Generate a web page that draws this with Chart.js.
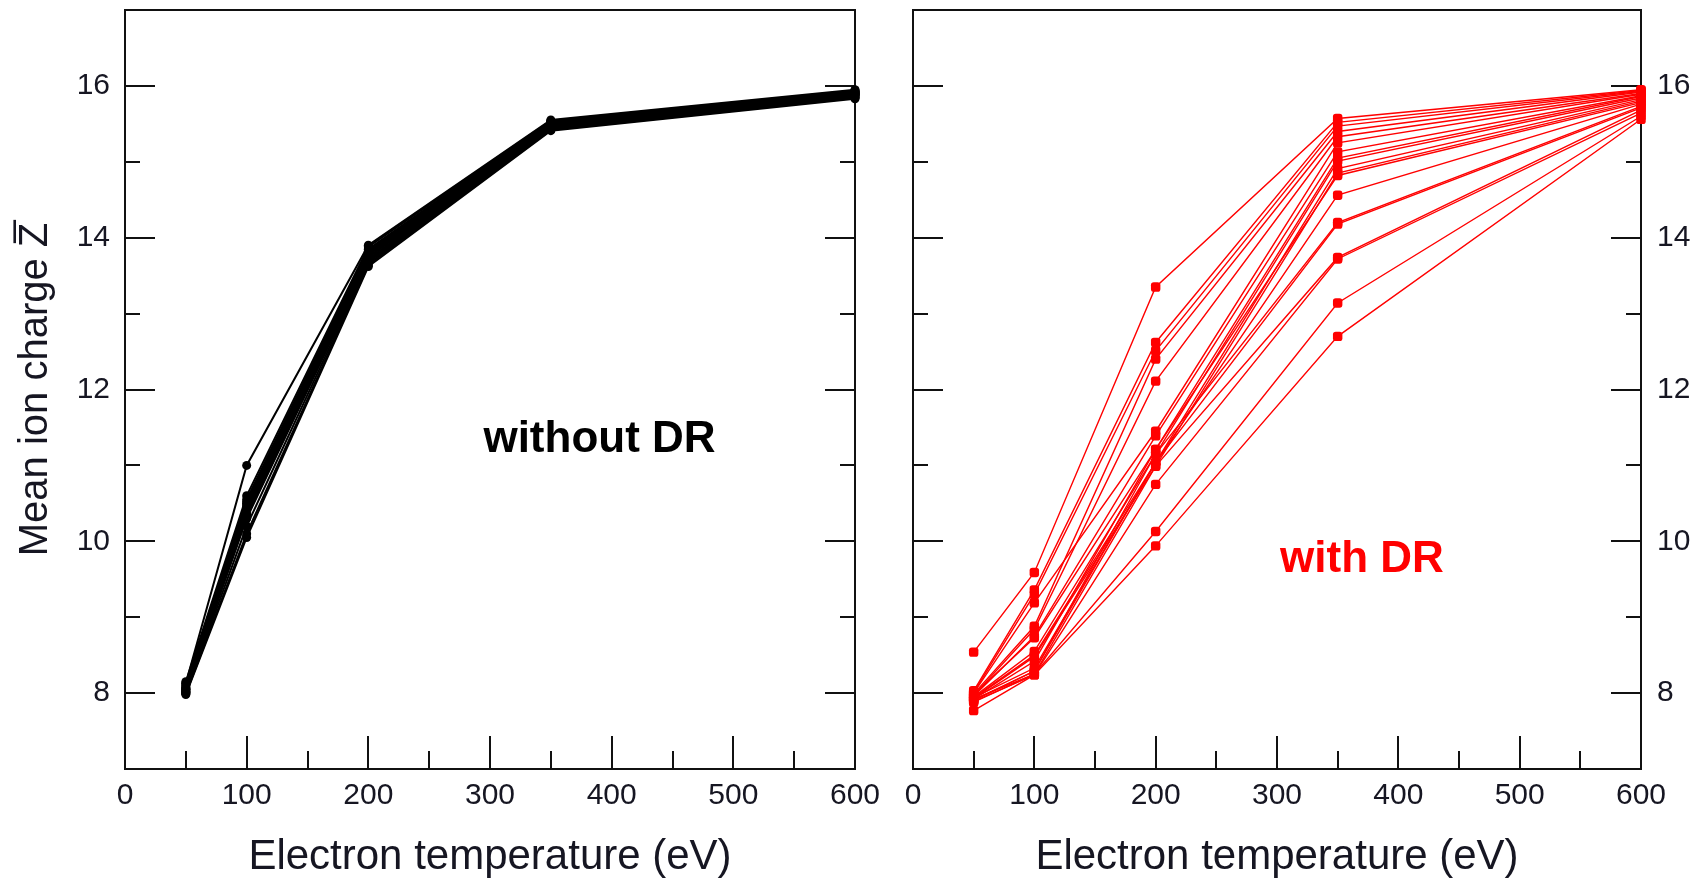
<!DOCTYPE html>
<html>
<head>
<meta charset="utf-8">
<script src="https://cdn.jsdelivr.net/npm/chart.js@4.4.1/dist/chart.umd.min.js"></script>
<style>
  html, body { margin: 0; padding: 0; background: #fff; width: 1704px; height: 879px; overflow: hidden; }
  canvas { position: absolute; top: 0; }
  #leftPanel { left: 0; }
  #rightPanel { left: 880px; }
</style>
</head>
<body>
<canvas id="leftPanel" width="880" height="879"></canvas>
<canvas id="rightPanel" width="824" height="879"></canvas>
<script>
// Electron temperatures (eV) at which the mean ion charge was computed
const temperatures = [50, 100, 200, 350, 600];

// Tick labels shown on the axes
const xTickLabels = [0, 100, 200, 300, 400, 500, 600];
const yTickLabels = [8, 10, 12, 14, 16];

// Mean ion charge, one row per case, without dielectronic recombination
const zWithoutDR = [
  [8.13, 11.00, 13.90, 15.55, 15.95],
  [8.15, 10.60, 13.88, 15.54, 15.94],
  [8.10, 10.55, 13.85, 15.53, 15.93],
  [8.08, 10.52, 13.84, 15.52, 15.92],
  [8.12, 10.50, 13.82, 15.52, 15.92],
  [8.06, 10.48, 13.80, 15.51, 15.91],
  [8.05, 10.45, 13.80, 15.50, 15.91],
  [8.04, 10.43, 13.78, 15.50, 15.90],
  [8.07, 10.42, 13.77, 15.49, 15.90],
  [8.03, 10.40, 13.75, 15.48, 15.89],
  [8.02, 10.38, 13.74, 15.48, 15.89],
  [8.05, 10.36, 13.72, 15.47, 15.88],
  [8.01, 10.34, 13.70, 15.46, 15.88],
  [8.00, 10.32, 13.69, 15.45, 15.87],
  [8.02, 10.30, 13.68, 15.44, 15.86],
  [8.00, 10.20, 13.66, 15.43, 15.85],
  [7.99, 10.10, 13.64, 15.42, 15.84],
  [7.98, 10.05, 13.62, 15.41, 15.83]
];

// Mean ion charge, one row per case, with dielectronic recombination
const zWithDR = [
  [8.54, 9.59, 13.35, 15.57, 15.95],
  [8.03, 9.36, 12.62, 15.52, 15.94],
  [8.01, 9.30, 12.51, 15.47, 15.93],
  [7.99, 8.88, 12.40, 15.40, 15.92],
  [7.97, 8.84, 12.11, 15.33, 15.90],
  [8.00, 9.19, 11.45, 15.25, 15.89],
  [7.96, 8.75, 11.39, 15.13, 15.87],
  [7.98, 8.73, 11.21, 15.05, 15.86],
  [7.95, 8.55, 11.15, 15.01, 15.84],
  [7.94, 8.50, 11.04, 14.91, 15.82],
  [7.93, 8.48, 10.99, 14.85, 15.80],
  [7.92, 8.42, 11.21, 14.82, 15.78],
  [7.94, 8.33, 11.04, 14.56, 15.76],
  [7.91, 8.29, 11.15, 14.20, 15.73],
  [7.90, 8.29, 11.04, 14.18, 15.71],
  [7.92, 8.25, 10.99, 13.74, 15.68],
  [7.89, 8.24, 10.75, 13.72, 15.64],
  [7.88, 8.25, 10.13, 13.14, 15.60],
  [7.77, 8.24, 9.94, 12.70, 15.56]
];

const FONT = "'Liberation Sans', Arial, Helvetica, sans-serif";
const INK = '#161622';

// Closed frame plus inward major/minor tick marks on the bottom, left and right sides
const frameTicks = {
  id: 'frameTicks',
  beforeDatasetsDraw(chart) {
    const { ctx, chartArea: a, scales: { x, y } } = chart;
    ctx.save();
    ctx.strokeStyle = '#111';
    ctx.lineWidth = 2;
    ctx.strokeRect(a.left, a.top, a.right - a.left, a.bottom - a.top);
    ctx.beginPath();
    x.ticks.forEach(t => {
      if (t.value <= x.min || t.value >= x.max) return;
      const px = Math.round(x.getPixelForValue(t.value));
      const len = xTickLabels.includes(t.value) ? 33 : 18;
      ctx.moveTo(px, a.bottom);
      ctx.lineTo(px, a.bottom - len);
    });
    y.ticks.forEach(t => {
      if (t.value <= y.min || t.value >= y.max) return;
      const py = Math.round(y.getPixelForValue(t.value));
      const len = yTickLabels.includes(t.value) ? 30 : 15;
      ctx.moveTo(a.left, py);
      ctx.lineTo(a.left + len, py);
      ctx.moveTo(a.right, py);
      ctx.lineTo(a.right - len, py);
    });
    ctx.stroke();
    ctx.restore();
  }
};

// Bold in-plot caption placed at data coordinates
function caption(text, color, xv, yv) {
  return {
    id: 'caption',
    afterDatasetsDraw(chart) {
      const { ctx, scales: { x, y } } = chart;
      ctx.save();
      ctx.font = `bold 44px ${FONT}`;
      ctx.fillStyle = color;
      ctx.textAlign = 'center';
      ctx.textBaseline = 'middle';
      ctx.fillText(text, x.getPixelForValue(xv), y.getPixelForValue(yv));
      ctx.restore();
    }
  };
}

function buildDatasets(rows, color, opts) {
  return rows.map(row => ({
    data: row.map((z, i) => ({ x: temperatures[i], y: z })),
    borderColor: color,
    backgroundColor: color,
    borderWidth: opts.lineWidth,
    pointStyle: opts.pointStyle,
    pointRadius: opts.pointRadius,
    pointBorderWidth: 0,
    pointHoverRadius: opts.pointRadius,
    tension: 0,
    clip: false,
    fill: false
  }));
}

function xScale() {
  return {
    type: 'linear',
    min: 0, max: 600,
    grid: { display: false, drawTicks: false },
    border: { display: false },
    ticks: {
      stepSize: 50, autoSkip: false, maxRotation: 0, minRotation: 0,
      padding: 9, color: INK,
      font: { family: FONT, size: 30 },
      callback: v => xTickLabels.includes(v) ? String(v) : ''
    },
    title: {
      display: true, text: 'Electron temperature (eV)', color: INK,
      font: { family: FONT, size: 42, lineHeight: 1 },
      padding: { top: 0, bottom: 1 }
    },
    afterFit: s => { s.height = 110; s.paddingLeft = 0; s.paddingRight = 0; }
  };
}

function yScale(position, width, withTitle) {
  return {
    type: 'linear',
    position,
    min: 7, max: 17,
    grid: { display: false, drawTicks: false },
    border: { display: false },
    ticks: {
      stepSize: 1, autoSkip: false,
      padding: position === 'left' ? 15 : 16, color: INK,
      font: { family: FONT, size: 30 },
      callback: v => yTickLabels.includes(v) ? String(v) : ''
    },
    title: {
      display: withTitle, text: 'Mean ion charge Z\u0305', color: INK,
      font: { family: FONT, size: 40, lineHeight: 1 },
      padding: { top: 16, bottom: 0 }
    },
    afterFit: s => { s.width = width; s.paddingTop = 0; s.paddingBottom = 0; }
  };
}

const common = {
  responsive: false,
  animation: false,
  devicePixelRatio: 1,
  plugins: { legend: { display: false }, tooltip: { enabled: false } },
  events: []
};

new Chart(document.getElementById('leftPanel'), {
  type: 'line',
  data: { datasets: buildDatasets(zWithoutDR, '#000000', { lineWidth: 2, pointStyle: 'circle', pointRadius: 4.5 }) },
  options: {
    ...common,
    layout: { padding: { left: 0, right: 25, top: 10, bottom: 0 } },
    scales: { x: xScale(), y: yScale('left', 125, true) }
  },
  plugins: [frameTicks, caption('without DR', '#000000', 390, 11.33)]
});

new Chart(document.getElementById('rightPanel'), {
  type: 'line',
  data: { datasets: buildDatasets(zWithDR, '#ff0000', { lineWidth: 1.4, pointStyle: 'rectRounded', pointRadius: 5.5 }) },
  options: {
    ...common,
    layout: { padding: { left: 33, right: 0, top: 10, bottom: 0 } },
    scales: { x: xScale(), y: yScale('right', 63, false) }
  },
  plugins: [frameTicks, caption('with DR', '#ff0000', 370, 9.75)]
});
</script>
</body>
</html>
